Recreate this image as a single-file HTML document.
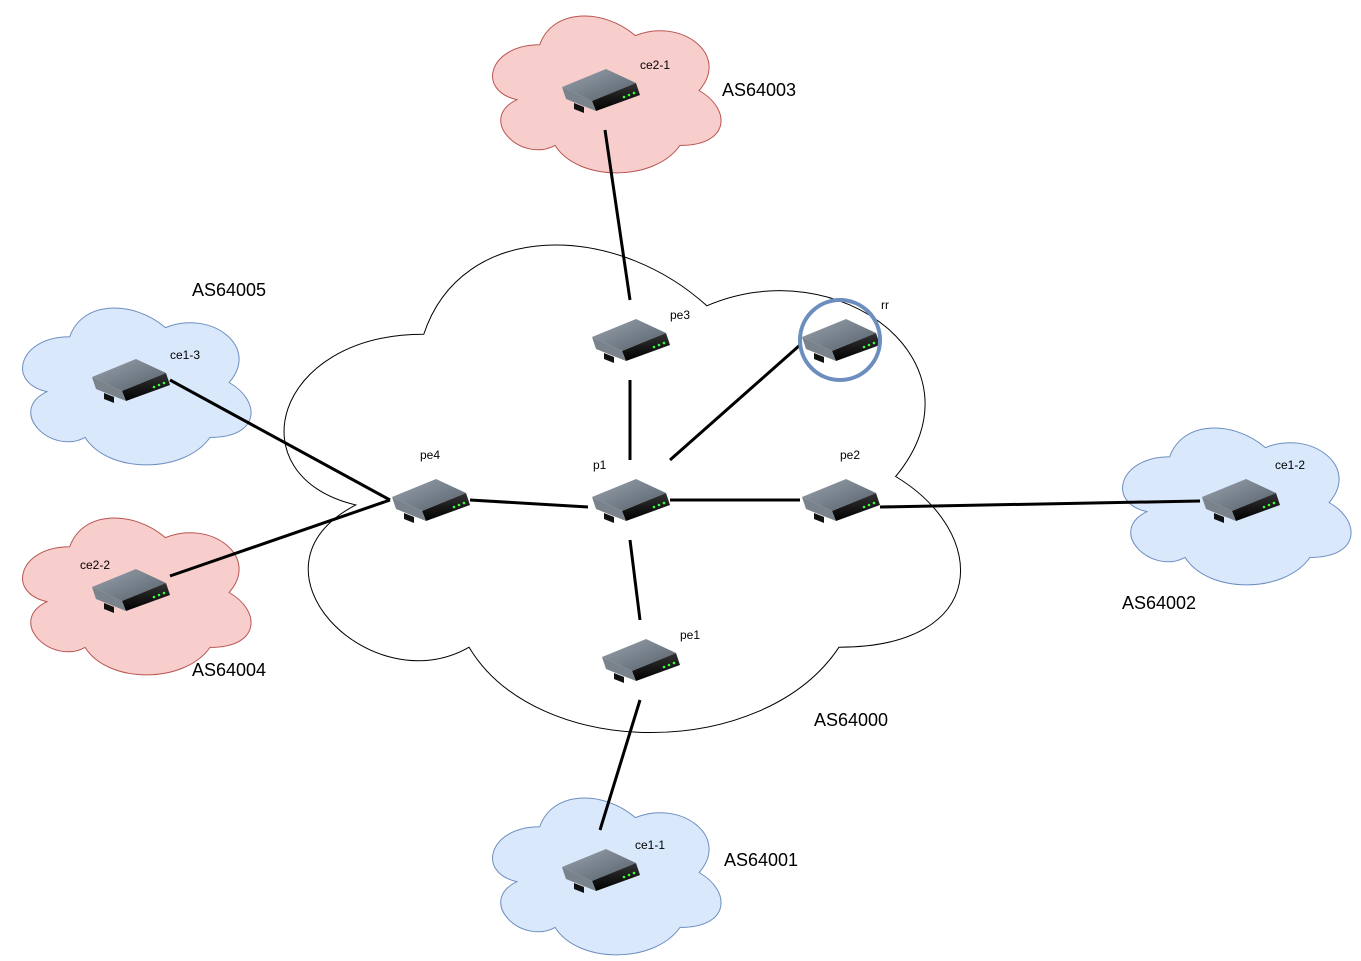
<!DOCTYPE html>
<html><head><meta charset="utf-8"><style>body{margin:0;background:#fff}svg{display:block}</style></head><body>
<svg width="1361" height="961" viewBox="0 0 1361 961" xmlns="http://www.w3.org/2000/svg" font-family="Liberation Sans, sans-serif">
<defs>
<linearGradient id="tg" x1="0" y1="0" x2="1" y2="1"><stop offset="0" stop-color="#9aa3ad"/><stop offset="1" stop-color="#55606a"/></linearGradient>
<linearGradient id="fg" x1="0" y1="0" x2="0" y2="1"><stop offset="0" stop-color="#333"/><stop offset="1" stop-color="#000"/></linearGradient>
<g id="r">
<polygon points="2,22 46,4 76,18 32,36" fill="url(#tg)"/>
<polygon points="32,36 76,18 80,30 36,46" fill="url(#fg)"/>
<polygon points="2,22 32,36 36,46 6,34" fill="#7a838c"/>
<polygon points="14,38 24,42 24,48 14,44" fill="#111"/>
<circle cx="64" cy="32" r="1.3" fill="#3f3"/><circle cx="69" cy="30" r="1.3" fill="#3f3"/><circle cx="74" cy="28" r="1.3" fill="#3f3"/>
</g>
</defs>
<g transform="translate(235,192) scale(7.55,5.69)"><path d="M25,25 C5,25 0,50 16,55 C0,66 18,90 31,80 C40,100 70,100 80,80 C100,80 100,60 87.5,50 C100,30 80,10 62.5,20 C50,5 30,5 25,25 Z" fill="#fff" stroke="#000" stroke-width="1" vector-effect="non-scaling-stroke"/></g>
<g transform="translate(476,-1) scale(2.55,1.83)"><path d="M25,25 C5,25 0,50 16,55 C0,66 18,90 31,80 C40,100 70,100 80,80 C100,80 100,60 87.5,50 C100,30 80,10 62.5,20 C50,5 30,5 25,25 Z" fill="#f8cecc" stroke="#b85450" stroke-width="1" vector-effect="non-scaling-stroke"/></g>
<g transform="translate(6,291) scale(2.55,1.83)"><path d="M25,25 C5,25 0,50 16,55 C0,66 18,90 31,80 C40,100 70,100 80,80 C100,80 100,60 87.5,50 C100,30 80,10 62.5,20 C50,5 30,5 25,25 Z" fill="#dae8fc" stroke="#6c8ebf" stroke-width="1" vector-effect="non-scaling-stroke"/></g>
<g transform="translate(6,501) scale(2.55,1.83)"><path d="M25,25 C5,25 0,50 16,55 C0,66 18,90 31,80 C40,100 70,100 80,80 C100,80 100,60 87.5,50 C100,30 80,10 62.5,20 C50,5 30,5 25,25 Z" fill="#f8cecc" stroke="#b85450" stroke-width="1" vector-effect="non-scaling-stroke"/></g>
<g transform="translate(1106,411) scale(2.55,1.83)"><path d="M25,25 C5,25 0,50 16,55 C0,66 18,90 31,80 C40,100 70,100 80,80 C100,80 100,60 87.5,50 C100,30 80,10 62.5,20 C50,5 30,5 25,25 Z" fill="#dae8fc" stroke="#6c8ebf" stroke-width="1" vector-effect="non-scaling-stroke"/></g>
<g transform="translate(476,781) scale(2.55,1.83)"><path d="M25,25 C5,25 0,50 16,55 C0,66 18,90 31,80 C40,100 70,100 80,80 C100,80 100,60 87.5,50 C100,30 80,10 62.5,20 C50,5 30,5 25,25 Z" fill="#dae8fc" stroke="#6c8ebf" stroke-width="1" vector-effect="non-scaling-stroke"/></g>
<g stroke="#000" stroke-width="3">
<line x1="605" y1="130" x2="630" y2="300"/><line x1="630" y1="380" x2="630" y2="460"/>
<line x1="670" y1="460" x2="800" y2="345"/><line x1="470" y1="500" x2="588" y2="507"/>
<line x1="670" y1="500" x2="800" y2="500"/><line x1="880" y1="507" x2="1200" y2="501"/>
<line x1="630" y1="540" x2="640" y2="620"/><line x1="170" y1="380" x2="390" y2="500"/>
<line x1="170" y1="576" x2="390" y2="500"/><line x1="640" y1="700" x2="600" y2="830"/>
</g>
<use href="#r" x="560" y="65"/><use href="#r" x="590" y="315"/><use href="#r" x="800" y="315"/>
<use href="#r" x="90" y="355"/><use href="#r" x="390" y="475"/><use href="#r" x="590" y="475"/>
<use href="#r" x="800" y="475"/><use href="#r" x="1200" y="475"/><use href="#r" x="90" y="565"/>
<use href="#r" x="600" y="635"/><use href="#r" x="560" y="845"/>
<circle cx="840" cy="340" r="40" fill="none" stroke="#6c8ebf" stroke-width="4"/>
<g font-size="12" fill="#000">
<text x="640" y="69">ce2-1</text><text x="670" y="319">pe3</text><text x="881" y="309">rr</text>
<text x="170" y="359">ce1-3</text><text x="420" y="459">pe4</text><text x="593" y="469">p1</text>
<text x="840" y="459">pe2</text><text x="1275" y="469">ce1-2</text><text x="80" y="569">ce2-2</text>
<text x="680" y="639">pe1</text><text x="635" y="849">ce1-1</text>
</g>
<g font-size="18" fill="#000">
<text x="722" y="96">AS64003</text><text x="192" y="296">AS64005</text><text x="192" y="676">AS64004</text>
<text x="1122" y="609">AS64002</text><text x="814" y="726">AS64000</text><text x="724" y="866">AS64001</text>
</g>
</svg>
</body></html>
